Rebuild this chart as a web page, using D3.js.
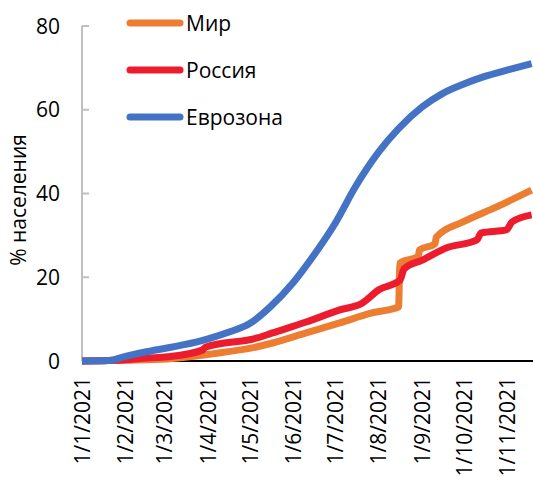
<!DOCTYPE html>
<html lang="ru">
<head>
<meta charset="utf-8">
<title>Vaccination</title>
<script src="https://d3js.org/d3.v7.min.js"></script>
<style>
  body { margin: 0; background: #fff; }
  svg { font-family: "Open Sans", sans-serif; }
  .lbl { font-size: 21px; fill: #000; }
</style>
</head>
<body>
<script>
// series
var seriesNames = ["Мир", "Россия", "Еврозона"];
var seriesColors = ["#ED7D31", "#EC1C2E", "#4472C4"];

var worldDates = ["2021-01-01", "2021-02-01", "2021-03-03", "2021-04-04", "2021-05-06", "2021-05-17",
  "2021-06-10", "2021-07-04", "2021-07-27", "2021-08-15", "2021-08-16", "2021-08-29", "2021-08-30",
  "2021-09-10", "2021-09-11", "2021-09-30", "2021-10-24", "2021-11-18"];
var worldValues = [0, 0.2, 0.5, 1.7, 3.4, 4.3, 6.7, 9.1, 11.5, 12.9, 23.4, 25.0, 26.5,
  28.0, 29.6, 33.2, 36.8, 40.8];

var russiaDates = ["2021-01-01", "2021-01-20", "2021-02-02", "2021-02-16", "2021-03-03", "2021-03-28",
  "2021-03-30", "2021-05-06", "2021-05-17", "2021-06-10", "2021-07-04", "2021-07-20", "2021-08-01",
  "2021-08-16", "2021-08-19", "2021-09-01", "2021-09-18", "2021-10-10", "2021-10-13", "2021-10-31",
  "2021-11-04", "2021-11-18"];
var russiaValues = [0, 0.1, 0.3, 0.7, 1.0, 2.6, 3.3, 5.5, 6.7, 9.3, 12.2, 13.8, 17.0,
  19.3, 22.0, 24.1, 27.0, 28.9, 30.6, 31.3, 33.2, 34.9];

var euroDates = ["2021-01-01", "2021-01-20", "2021-02-01", "2021-02-16", "2021-03-01", "2021-03-15",
  "2021-04-01", "2021-04-15", "2021-05-01", "2021-05-15", "2021-06-01", "2021-06-15", "2021-07-01",
  "2021-07-15", "2021-08-01", "2021-08-15", "2021-09-01", "2021-09-15", "2021-10-01", "2021-10-15",
  "2021-11-01", "2021-11-18"];
var euroValues = [0, 0.1, 1.1, 2.2, 3.0, 3.9, 5.3, 6.8, 9.0, 12.8, 18.8, 25.0, 33.0,
  41.5, 50.0, 55.5, 60.7, 63.8, 66.2, 67.9, 69.5, 71.0];

var yTicks = [0, 20, 40, 60, 80];
var yTitle = "% населения";

var parse = d3.timeParse("%Y-%m-%d");
function build(dates, values) {
  return dates.map(function(d, i) { return { date: parse(d), value: values[i] }; });
}
var series = [
  build(worldDates, worldValues),
  build(russiaDates, russiaValues),
  build(euroDates, euroValues)
];

var width = 533, height = 477;
var svg = d3.select("body").append("svg")
  .attr("width", width)
  .attr("height", height);

var x = d3.scaleTime()
  .domain([parse("2021-01-01"), parse("2021-11-19")])
  .range([82, 533]);
var y = d3.scaleLinear()
  .domain([0, 80])
  .range([361, 26]);

// y axis
svg.append("line")
  .attr("x1", 82).attr("x2", 82)
  .attr("y1", y(80)).attr("y2", y(0))
  .attr("stroke", "#BFBFBF").attr("stroke-width", 2);
svg.selectAll(".ytick").data(yTicks).enter().append("line")
  .attr("x1", 82).attr("x2", 89)
  .attr("y1", function(d) { return y(d); })
  .attr("y2", function(d) { return y(d); })
  .attr("stroke", "#BFBFBF").attr("stroke-width", 2);
svg.selectAll(".ylab").data(yTicks).enter().append("text")
  .attr("class", "lbl")
  .attr("x", 60)
  .attr("y", function(d) { return y(d); })
  .attr("dy", "0.36em")
  .attr("text-anchor", "end")
  .text(function(d) { return d; });

svg.append("text")
  .attr("class", "lbl")
  .attr("transform", "translate(26,200) rotate(-90)")
  .attr("text-anchor", "middle")
  .text(yTitle);

// x axis
svg.append("line")
  .attr("x1", 82).attr("x2", 533)
  .attr("y1", y(0)).attr("y2", y(0))
  .attr("stroke", "#000").attr("stroke-width", 2);

var xTicks = d3.timeMonth.range(parse("2021-01-01"), parse("2021-11-02"));
var fmt = d3.timeFormat("%-d/%-m/%Y");
svg.selectAll(".xlab").data(xTicks).enter().append("text")
  .attr("class", "lbl")
  .attr("transform", function(d) { return "translate(" + x(d) + ",377) rotate(-90)"; })
  .attr("dy", "0.36em")
  .attr("text-anchor", "end")
  .text(function(d) { return fmt(d); });

// lines
var line = d3.line()
  .x(function(d) { return x(d.date); })
  .y(function(d) { return y(d.value); })
  .curve(d3.curveMonotoneX);

[0, 1, 2].forEach(function(i) {
  svg.append("path")
    .datum(series[i])
    .attr("fill", "none")
    .attr("stroke", seriesColors[i])
    .attr("stroke-width", 7)
    .attr("stroke-linejoin", "round")
    .attr("d", line);
});

// legend
seriesNames.forEach(function(name, i) {
  var ly = 23 + i * 47;
  svg.append("line")
    .attr("x1", 130).attr("x2", 180)
    .attr("y1", ly).attr("y2", ly)
    .attr("stroke", seriesColors[i])
    .attr("stroke-width", 7)
    .attr("stroke-linecap", "round");
  svg.append("text")
    .attr("class", "lbl")
    .attr("x", 186)
    .attr("y", ly)
    .attr("dy", "0.36em")
    .text(name);
});
</script>
</body>
</html>
